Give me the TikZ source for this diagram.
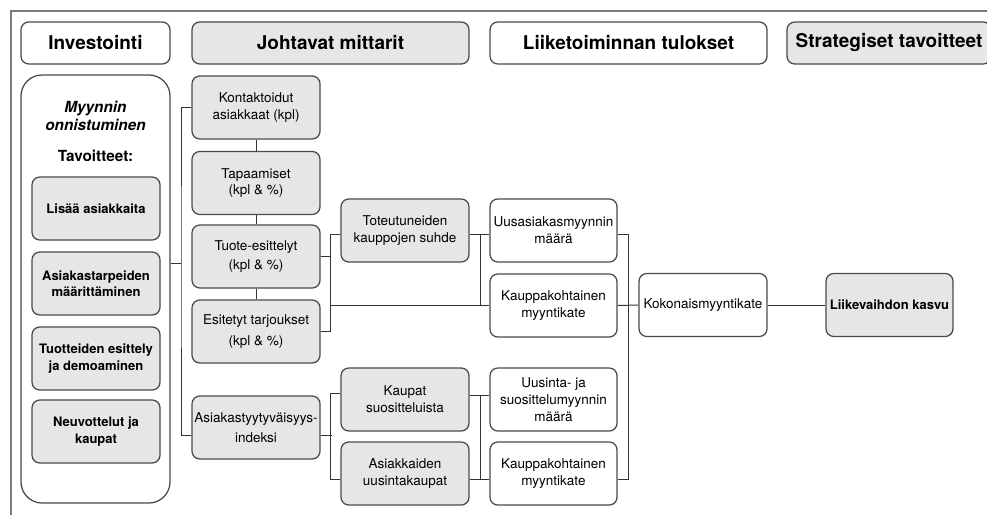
\documentclass[tikz,border=0pt]{standalone}
\usepackage{fontspec}
\setmainfont{TeX Gyre Heros}
\definecolor{boxgray}{HTML}{E6E6E6}
\definecolor{edgegray}{HTML}{4A4A4A}
\definecolor{framegray}{HTML}{7A7A7A}
\begin{document}
\begin{tikzpicture}[
    x=0.25mm, y=-0.25mm,
    box/.style={rectangle, draw=edgegray, line width=0.9pt, rounded corners=5.5pt, inner sep=0pt, align=center, minimum width=32mm, minimum height=15.75mm, font=\fontsize{9.6}{12}\selectfont},
    grey/.style={box, fill=boxgray},
    head/.style={box, minimum height=10.5mm, font=\bfseries\fontsize{13.5}{16}\selectfont},
    goal/.style={grey, font=\bfseries\fontsize{9.25}{11.5}\selectfont},
    link/.style={draw=black!80, line width=0.7pt}
]
\useasboundingbox (0,0) rectangle (987,515);
\clip (0,0) rectangle (987,515);

% Frame
\draw[framegray, line width=1pt] (11,530) -- (11,11) -- (1000,11);

% Headers
\node[head, minimum width=37.25mm] (inv) at (95.5,43) {Investointi};
\node[head, fill=boxgray, minimum width=69.25mm] (lead) at (330.5,43) {Johtavat mittarit};
\node[head, minimum width=69.25mm] (results) at (628.5,43) {Liiketoiminnan tulokset};
\node[head, fill=boxgray, minimum width=51mm] (strategy) at (889,43) {Strategiset tavoitteet};

% Investment column
\node[box, rounded corners=15pt, minimum width=37.25mm, minimum height=107mm] (sales) at (95.5,289) {};
\node[font=\bfseries\itshape\fontsize{10.9}{12.5}\selectfont, align=center] (salestitle) at (95.5,116) {Myynnin\\onnistuminen};
\node[font=\bfseries\fontsize{10.9}{12}\selectfont] (goalstitle) at (95.5,156) {Tavoitteet:};
\node[goal] (g1) at (96,208.5) {Lisää asiakkaita};
\node[goal] (g2) at (96,283.5) {Asiakastarpeiden\\määrittäminen};
\node[goal] (g3) at (96,358.5) {Tuotteiden esittely\\ja demoaminen};
\node[goal] (g4) at (96,431.5) {Neuvottelut ja\\kaupat};

% Leading indicators
\node[grey] (contacts) at (256,107.5) {Kontaktoidut\\asiakkaat (kpl)};
\node[grey] (meetings) at (256,183) {Tapaamiset\\(kpl \& \%)};
\node[grey] (demos) at (256,256.5) {Tuote-esittelyt\\[2pt](kpl \& \%)};
\node[grey] (offers) at (256,331.5) {Esitetyt tarjoukset\\[3.5pt](kpl \& \%)};
\node[grey] (satisf) at (256,427.5) {Asiakastyytyväisyys-\\[2pt]indeksi};

\node[grey] (closed) at (405,230.5) {Toteutuneiden\\kauppojen suhde};
\node[grey] (referrals) at (405,399.5) {Kaupat\\suositteluista};
\node[grey] (repeat) at (405,473.5) {Asiakkaiden\\uusintakaupat};

% Business results
\node[box, minimum width=31.75mm] (newsales) at (553.5,230.5) {Uusasiakasmyynnin\\määrä};
\node[box, minimum width=31.75mm] (margin1) at (553.5,305.5) {Kauppakohtainen\\myyntikate};
\node[box, minimum width=31.75mm] (resales) at (553.5,399.5) {Uusinta- ja\\suosittelumyynnin\\määrä};
\node[box, minimum width=31.75mm] (margin2) at (553.5,473.5) {Kauppakohtainen\\myyntikate};
\node[box] (total) at (703,305) {Kokonaismyyntikate};

% Strategic goal
\node[goal, minimum width=31.75mm] (growth) at (889.5,305) {Liikevaihdon kasvu};

% Lines
\coordinate (lb) at (181,263);
\coordinate (mb) at (331,0);
\coordinate (rb) at (480,0);
\draw[link] (sales.east |- lb) -- (lb);
\draw[link] (contacts.west) -| (lb) |- ([yshift=-6pt]satisf.west);
\draw[link] (contacts) -- (meetings);
\draw[link] (meetings) -- (demos);
\draw[link] (demos) -- (offers);
\draw[link] ([yshift=-3pt]closed.west) -- ++(-10,0) |- (offers.east);
\draw[link] (demos.east) -- (demos.east -| mb);
\draw[link] (margin1.west) -- (margin1.west -| mb);
\draw[link] ([yshift=-3pt]closed.east) -- ([yshift=-3pt]newsales.west);
\draw[link] ([yshift=-3pt]closed.east -| rb) -- (margin1.west -| rb);
\draw[link] ([yshift=-6pt]satisf.east) -- ++(11,0);
\draw[link] ([yshift=4pt]referrals.west) -- ++(-10,0) |- ([yshift=-4pt]repeat.west);
\draw[link] ([yshift=3pt]referrals.east) -- ([yshift=3pt]resales.west);
\draw[link] ([yshift=-4pt]repeat.east) -- ([yshift=-4pt]margin2.west);
\draw[link] ([yshift=3pt]referrals.east -| rb) -- ([yshift=-4pt]repeat.east -| rb);
\draw[link] ([yshift=-3pt]newsales.east) -- ++(11,0) |- ([yshift=-4pt]margin2.east);
\draw[link] (margin1.east) -- (total.west);
\draw[link] (total) -- (growth);

\end{tikzpicture}
\end{document}
